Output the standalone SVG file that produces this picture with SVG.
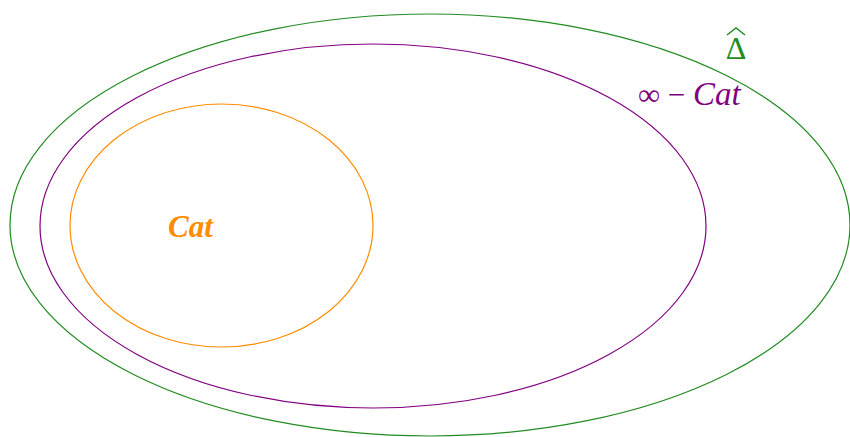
<svg xmlns="http://www.w3.org/2000/svg" width="850" height="437" viewBox="0 0 850 437">
<style>
.e{fill:none;stroke-width:1.2}
.t{font-family:"Liberation Serif","DejaVu Serif",serif}
.i{font-style:italic}
</style>
<rect width="850" height="437" fill="#fff"/>
<g id="delta-hat">
<ellipse class="e" cx="430" cy="225" rx="420" ry="211" stroke="#228B22"/>
<text class="t" x="736" y="59" font-size="32" fill="#228B22" text-anchor="middle">Δ</text>
<path d="M727 35 L736 28 L745 35" fill="none" stroke="#228B22" stroke-width="1.5"/>
</g>
<g id="infty-cat">
<ellipse class="e" cx="373" cy="226" rx="333" ry="182" stroke="#800080"/>
<text class="t" x="638" y="105" font-size="31" fill="#800080">∞ − <tspan class="i" font-size="33">Cat</tspan></text>
</g>
<g id="cat">
<ellipse class="e" cx="221.5" cy="225.5" rx="151.5" ry="121.5" stroke="#FF8C00"/>
<text class="t i" x="168" y="237" font-size="31" font-weight="bold" fill="#FF8C00">Cat</text>
</g>
</svg>
